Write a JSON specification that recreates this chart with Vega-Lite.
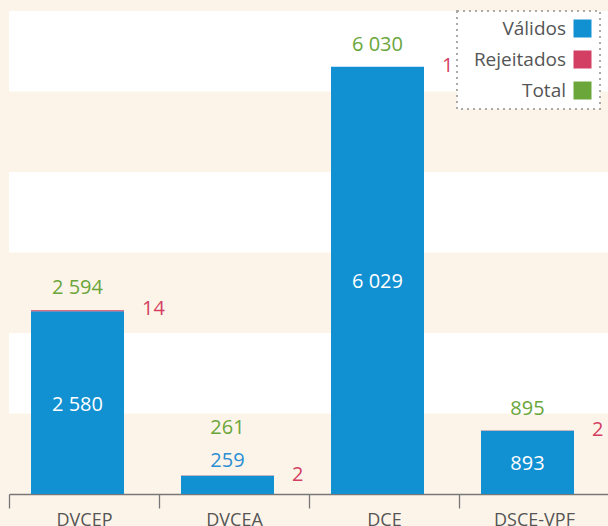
{
  "$schema": "https://vega.github.io/schema/vega-lite/v6.json",
  "width": 600,
  "height": 483,
  "autosize": {"type": "none"},
  "padding": {"left": 9, "top": 11, "right": 0, "bottom": 32},
  "background": "#fdf4e9",
  "config": {
    "view": {"stroke": null},
    "font": "Open Sans",
    "locale": {"number": {"decimal": ",", "thousands": " ", "grouping": [3], "currency": ["", " €"]}},
    "legend": {"strokeColor": "#aaaaaa", "strokeDash": [2, 4], "strokeWidth": 2, "fillColor": "#ffffff", "padding": 8}
  },
  "datasets": {
    "bands": [
      {"y0": 1136, "y1": 2272},
      {"y0": 3408, "y1": 4544},
      {"y0": 5680, "y1": 6816}
    ],
    "dados": [
      {"unidade": "DVCEP", "Válidos": 2580, "Rejeitados": 14, "Total": 2594},
      {"unidade": "DVCEA", "Válidos": 259, "Rejeitados": 2, "Total": 261},
      {"unidade": "DCE", "Válidos": 6029, "Rejeitados": 1, "Total": 6030},
      {"unidade": "DSCE-VPF", "Válidos": 893, "Rejeitados": 2, "Total": 895}
    ]
  },
  "layer": [
    {
      "data": {"name": "bands"},
      "mark": {"type": "rect", "fill": "#ffffff"},
      "encoding": {
        "y": {"field": "y0", "type": "quantitative", "scale": {"domain": [0, 6816], "nice": false, "zero": true}, "axis": null},
        "y2": {"field": "y1"}
      }
    },
    {
      "data": {"name": "dados"},
      "transform": [{"fold": ["Válidos", "Rejeitados"], "as": ["serie", "valor"]}],
      "mark": {"type": "bar", "width": 93, "xOffset": -6.5},
      "encoding": {
        "x": {
          "field": "unidade", "type": "nominal",
          "sort": ["DVCEP", "DVCEA", "DCE", "DSCE-VPF"],
          "scale": {"paddingInner": 0, "paddingOuter": 0},
          "axis": {
            "title": null, "orient": "bottom", "tickBand": "extent", "labelAngle": 0,
            "labelFontSize": 18, "labelColor": "#555555", "domainColor": "#777777",
            "tickColor": "#777777", "tickSize": 14, "labelPadding": 3, "domainWidth": 1.3, "tickWidth": 1.3
          }
        },
        "y": {"field": "valor", "type": "quantitative", "stack": "zero"},
        "color": {
          "field": "serie", "type": "nominal",
          "scale": {"domain": ["Válidos", "Rejeitados", "Total"], "range": ["#1190d2", "#d33f62", "#6aa63a"]},
          "legend": {
            "title": null, "orient": "none", "legendX": 448, "legendY": 0,
            "symbolType": "square", "symbolSize": 324, "symbolStrokeWidth": 0,
            "labelFontSize": 19, "labelColor": "#555555", "labelAlign": "right",
            "labelOffset": -26, "symbolOffset": 108, "rowPadding": 11
          }
        },
        "order": {"field": "serie", "sort": "descending"}
      }
    },
    {
      "data": {"name": "dados"},
      "transform": [{"filter": "datum['Válidos'] >= 500"}],
      "mark": {"type": "text", "dx": -6.5, "dy": -22, "fontSize": 20, "fill": "#6aa63a", "baseline": "middle"},
      "encoding": {
        "x": {"field": "unidade", "type": "nominal", "sort": ["DVCEP", "DVCEA", "DCE", "DSCE-VPF"]},
        "y": {"field": "Total", "type": "quantitative"},
        "text": {"field": "Total", "type": "quantitative", "format": ",d"}
      }
    },
    {
      "data": {"name": "dados"},
      "transform": [{"filter": "datum['Válidos'] < 500"}],
      "mark": {"type": "text", "dx": -6.5, "dy": -48, "fontSize": 20, "fill": "#6aa63a", "baseline": "middle"},
      "encoding": {
        "x": {"field": "unidade", "type": "nominal", "sort": ["DVCEP", "DVCEA", "DCE", "DSCE-VPF"]},
        "y": {"field": "Total", "type": "quantitative"},
        "text": {"field": "Total", "type": "quantitative", "format": ",d"}
      }
    },
    {
      "data": {"name": "dados"},
      "transform": [{"filter": "datum['Válidos'] >= 500"}],
      "mark": {"type": "text", "dx": -6.5, "dy": 2, "fontSize": 20, "fill": "#ffffff", "baseline": "middle"},
      "encoding": {
        "x": {"field": "unidade", "type": "nominal", "sort": ["DVCEP", "DVCEA", "DCE", "DSCE-VPF"]},
        "y": {"field": "Válidos", "type": "quantitative", "stack": "zero", "bandPosition": 0.5},
        "text": {"field": "Válidos", "type": "quantitative", "format": ",d"}
      }
    },
    {
      "data": {"name": "dados"},
      "transform": [{"filter": "datum['Válidos'] < 500"}],
      "mark": {"type": "text", "dx": -6.5, "dy": -15, "fontSize": 20, "fill": "#2a8fd4", "baseline": "middle"},
      "encoding": {
        "x": {"field": "unidade", "type": "nominal", "sort": ["DVCEP", "DVCEA", "DCE", "DSCE-VPF"]},
        "y": {"field": "Válidos", "type": "quantitative"},
        "text": {"field": "Válidos", "type": "quantitative", "format": ",d"}
      }
    },
    {
      "data": {"name": "dados"},
      "mark": {"type": "text", "dx": 58, "dy": -1, "fontSize": 20, "fill": "#d33f62", "baseline": "middle", "align": "left"},
      "encoding": {
        "x": {"field": "unidade", "type": "nominal", "sort": ["DVCEP", "DVCEA", "DCE", "DSCE-VPF"]},
        "y": {"field": "Total", "type": "quantitative"},
        "text": {"field": "Rejeitados", "type": "quantitative", "format": ",d"}
      }
    }
  ]
}
